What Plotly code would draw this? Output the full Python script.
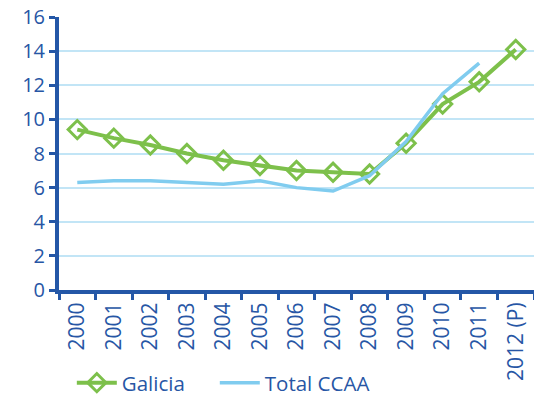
import plotly.graph_objects as go

years = ["2000", "2001", "2002", "2003", "2004", "2005", "2006", "2007", "2008", "2009", "2010", "2011", "2012 (P)"]
galicia = [9.4, 8.9, 8.5, 8.0, 7.6, 7.3, 7.0, 6.9, 6.8, 8.6, 10.9, 12.2, 14.1]
total_ccaa = [6.3, 6.4, 6.4, 6.3, 6.2, 6.4, 6.0, 5.8, 6.7, 8.7, 11.5, 13.3, None]

AX = "#2457A7"
TXT = "#2756A5"
GREEN = "#7DC04B"
BLUE = "#80CCEF"
FONT = "Open Sans"

fig = go.Figure()
fig.add_trace(go.Scatter(
    x=years, y=galicia, name="Galicia", mode="lines+markers", legend="legend",
    line=dict(color=GREEN, width=4),
    marker=dict(symbol="diamond-open", size=14, color=GREEN, line=dict(width=3, color=GREEN)),
))
fig.add_trace(go.Scatter(
    x=years, y=total_ccaa, name="Total CCAA", mode="lines", legend="legend2",
    line=dict(color=BLUE, width=3.5),
))

leg_common = dict(orientation="h", yanchor="middle", y=-0.34, xanchor="left",
                  font=dict(size=20.5, color=TXT, family=FONT), itemwidth=40,
                  bgcolor="rgba(0,0,0,0)")

fig.update_layout(
    width=534, height=403,
    margin=dict(l=59, r=0, t=17, b=97),
    paper_bgcolor="white", plot_bgcolor="white",
    font=dict(family=FONT, color=TXT, size=20),
    showlegend=True,
    legend=dict(x=0.027, **leg_common),
    legend2=dict(x=0.328, **leg_common),
)
fig.update_xaxes(
    type="category", range=[-0.5, 12.5], tickson="boundaries", automargin=False,
    showline=True, linecolor=AX, linewidth=4,
    ticks="outside", ticklen=6, tickwidth=3, tickcolor=AX,
    tickangle=-90, tickfont=dict(size=21, color=TXT, family=FONT),
    showgrid=False,
)
fig.update_yaxes(
    range=[0, 16], dtick=2, automargin=False,
    showline=True, linecolor=AX, linewidth=4,
    ticks="outside", ticklen=6, tickwidth=3, tickcolor=AX,
    tickfont=dict(size=20, color=TXT, family=FONT),
    showgrid=True, gridcolor="#C2E5F6", gridwidth=1.5,
    zeroline=False,
)

fig.write_html(
    "out.html",
    config={"displayModeBar": False},
    post_script=(
        "document.documentElement.style.margin='0';"
        "document.documentElement.style.overflow='hidden';"
        "document.body.style.margin='0';"
        "document.body.style.overflow='hidden';"
    ),
)
